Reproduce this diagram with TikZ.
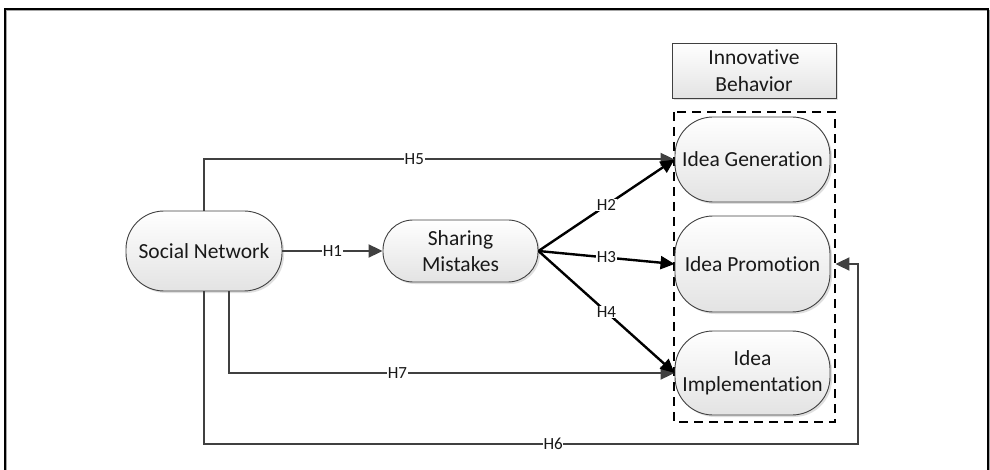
\documentclass[tikz,border=0pt]{standalone}
\usepackage{fontspec}
\setmainfont[Ligatures=NoCommon]{Carlito}
\usetikzlibrary{arrows.meta,shadows,positioning}
\definecolor{lgray}{HTML}{404040}
\tikzset{
  box/.style={draw=lgray, line width=0.9pt, top color=white, bottom color=black!11,
    drop shadow={shadow xshift=2pt, shadow yshift=-2pt, fill=black!25, opacity=0.5},
    align=center, font=\fontsize{21.5}{26.5}\selectfont, text=black!90, inner sep=0pt},
  oval/.style={box, rounded corners=38pt},
  lab/.style={fill=white, inner sep=0.6pt, font=\fontsize{17}{19}\selectfont, text=black!90},
  gline/.style={draw=lgray, line width=2pt},
  bline/.style={draw=black, line width=2.4pt},
  tip/.style={-{Triangle[length=14pt,width=13pt]}},
}
\begin{document}
\begin{tikzpicture}[x=1pt,y=-1pt]
\useasboundingbox (0,0) rectangle (990,470);
% outer frame
\draw[black!35, line width=1.5pt] (6.5,471) -- (6.5,10.5) -- (989.5,10.5) -- (989.5,471);
\draw[black, line width=1.4pt] (5,471) -- (5,9) -- (988,9) -- (988,471);

% dashed group
\draw[black, line width=1.5pt, dash pattern=on 9pt off 6pt] (674,112) rectangle (835,422);

% nodes
\node[box, minimum width=164pt, minimum height=55pt, rounded corners=0pt] (IB) at (754,70.5) {Innovative\\Behavior};
\node[oval, minimum width=156pt, minimum height=80pt] (SN) at (204,251) {Social Network};
\node[oval, rounded corners=30pt, minimum width=155pt, minimum height=62pt] (SM) at (460.5,251) {Sharing\\Mistakes};
\node[oval, minimum width=155pt, minimum height=85pt] (IG) at (752.5,159.5) {Idea Generation};
\node[oval, minimum width=155pt, minimum height=96pt] (IP) at (752.5,264) {Idea Promotion};
\node[oval, minimum width=155pt, minimum height=84pt] (II) at (752.5,373) {Idea\\Implementation};

\coordinate (h6c) at (858,444);

% connectors
\draw[gline, tip] (SN.east) -- node[lab]{H1} (SM.west);
\draw[gline, tip] (SN.north) -- (SN.north |- IG.west) -- node[lab, pos=0.447]{H5} (IG.west);
\draw[gline, tip] ([xshift=25pt]SN.south) -- ([xshift=25pt]SN.south |- II.west) -- node[lab, pos=0.378]{H7} (II.west);
\draw[gline, tip] (SN.south) -- (SN.south |- h6c) -- node[lab, pos=0.534]{H6} (h6c) |- ([xshift=5pt]IP.east);
\draw[bline, tip] (SM.east) -- node[lab, pos=0.5]{H2} (IG.west);
\draw[bline, tip] (SM.east) -- node[lab, pos=0.5]{H3} (IP.west);
\draw[bline, tip] (SM.east) -- node[lab, pos=0.5]{H4} (II.west);
\end{tikzpicture}
\end{document}
